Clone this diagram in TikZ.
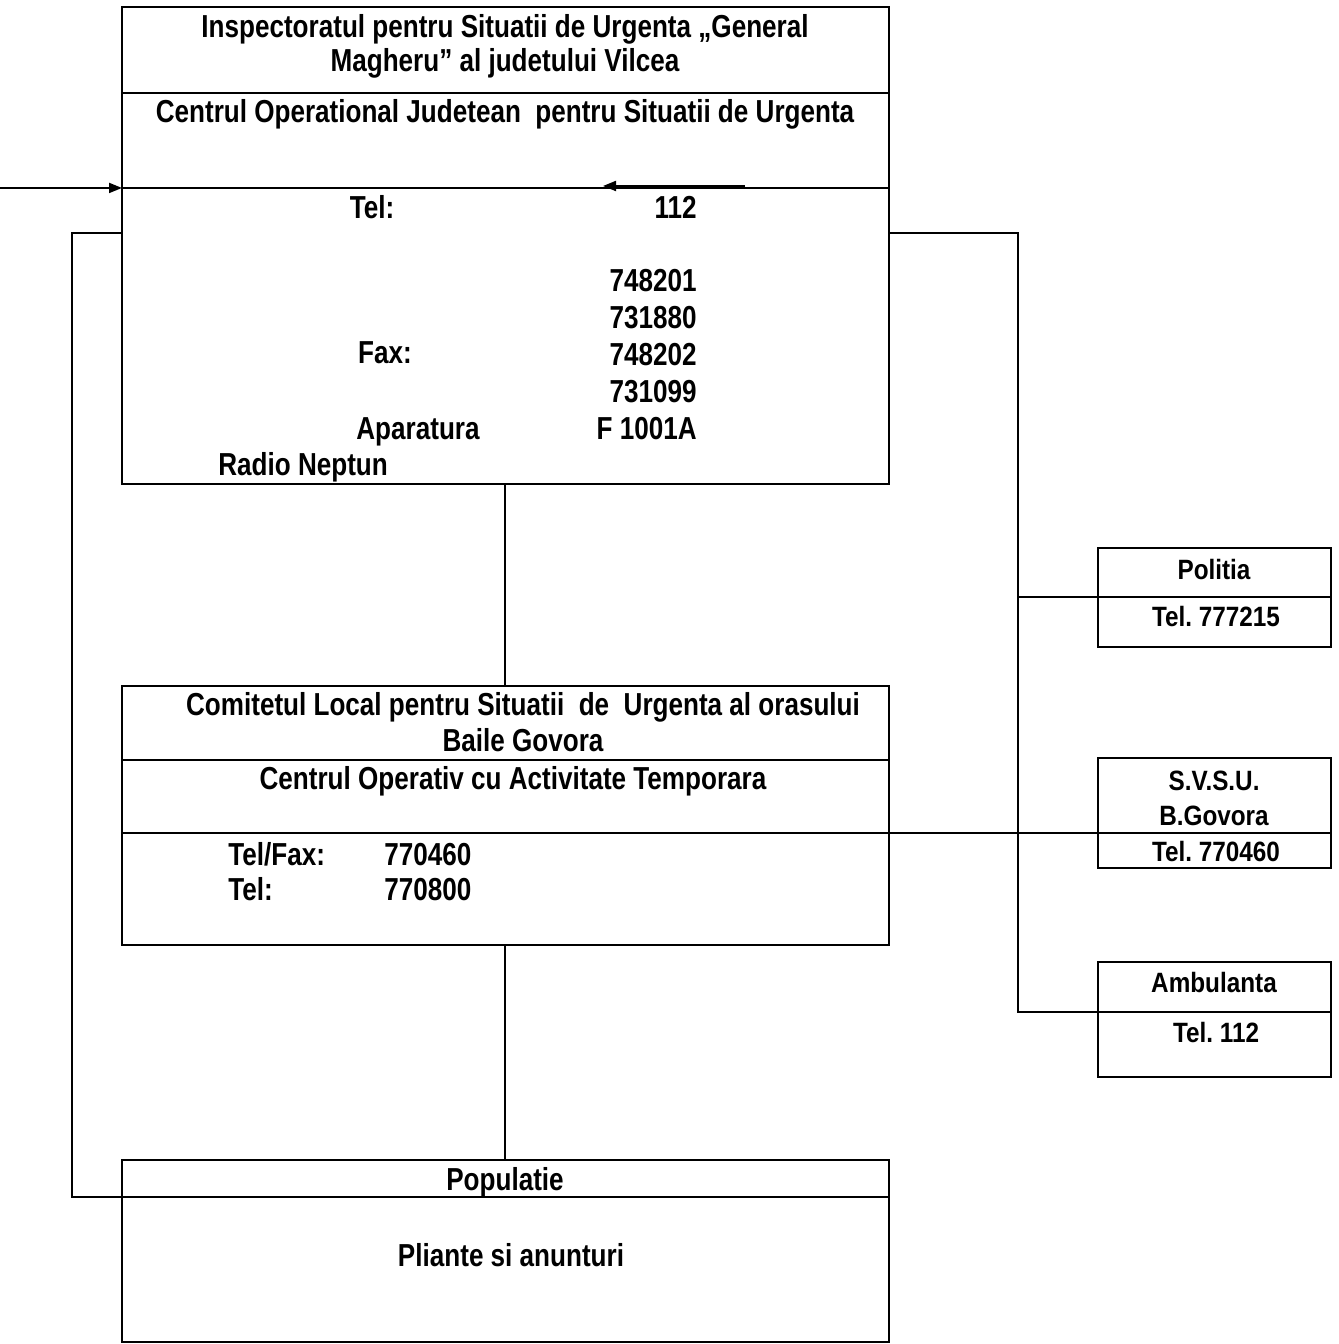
\documentclass[tikz,border=0pt]{standalone}
\usepackage{fontspec}
\setmainfont{Liberation Sans}
\newfontfamily\narrowfont[FakeStretch=0.82]{Liberation Sans}
\newfontfamily\sidefont[FakeStretch=0.87]{Liberation Sans}
\usetikzlibrary{arrows.meta, positioning}
\frenchspacing

\begin{document}
\begin{tikzpicture}[x=0.02cm, y=-0.02cm,
  part/.style={draw, line width=1.1pt, anchor=north west, inner sep=0pt, outer sep=0pt, minimum width=15.34cm},
  sidepart/.style={draw, line width=1.1pt, anchor=north west, inner sep=0pt, outer sep=0pt, minimum width=4.66cm},
  link/.style={line width=1.1pt},
  txt/.style={font=\narrowfont\bfseries\fontsize{18.1}{21}\selectfont, inner sep=0pt, anchor=base},
  sidetxt/.style={font=\sidefont\bfseries\fontsize{15.9}{19.8}\selectfont, inner sep=0pt, anchor=base, align=center}]

\useasboundingbox (0,0) rectangle (1338,1344);

% Inspectorat box (three stacked parts)
\node[part, minimum height=1.72cm] (isuT) at (122,7) {};
\node[part, minimum height=1.9cm] (isuC) at (isuT.south west) {};
\node[part, minimum height=5.92cm] (isuD) at (isuC.south west) {};

\node[txt, align=center, font=\narrowfont\bfseries\fontsize{18.1}{19.8}\selectfont] (isuTitle) at (505,72) {Inspectoratul pentru Situatii de Urgenta „General\\Magheru” al judetului Vilcea};
\node[txt] (isuCentru) at (505,123) {Centrul Operational Judetean\ \ pentru Situatii de Urgenta};
\node[txt] (isuTel) at (372,219) {Tel:};
\node[txt, anchor=base east] (isu112) at (697,219) {112};
\node[txt, anchor=base east, align=right] (isuNr) at (697,439) {748201\\731880\\748202\\731099\\F 1001A};
\node[txt] (isuFax) at (385,364) {Fax:};
\node[txt] (isuApar) at (418,439) {Aparatura};
\node[txt, anchor=base west] (isuRadio) at (218,475) {Radio Neptun};

% incoming arrows
\coordinate (inL) at (0,0);
\coordinate (inR) at (745,186);
\coordinate (inRtip) at (603,186);
\draw[link, -{Triangle[length=0.26cm, width=0.2cm]}] (inL |- isuC.south west) -- (isuC.south west);
\draw[link, -{Triangle[length=0.26cm, width=0.2cm]}] (inR) -- (inRtip);

% Comitetul Local box
\node[part, minimum height=1.48cm] (clT) at (122,686) {};
\node[part, minimum height=1.46cm] (clC) at (clT.south west) {};
\node[part, minimum height=2.24cm] (clD) at (clC.south west) {};

\node[txt, align=center, font=\narrowfont\bfseries\fontsize{18.1}{20.4}\selectfont] (clTitle) at (523,751) {Comitetul Local pentru Situatii\ \ de\ \ Urgenta al orasului\\Baile Govora};
\node[txt] (clCentru) at (513,789) {Centrul Operativ cu Activitate Temporara};
\node[txt, anchor=base west, align=left, font=\narrowfont\bfseries\fontsize{18.1}{19.8}\selectfont] (clLbl) at (228,900) {Tel/Fax:\\Tel:};
\node[txt, anchor=base west, align=left, font=\narrowfont\bfseries\fontsize{18.1}{19.8}\selectfont] (clNr) at (384,900) {770460\\770800};

% Populatie box
\node[part, minimum height=0.74cm] (popT) at (122,1160) {};
\node[part, minimum height=2.9cm] (popB) at (popT.south west) {};

\node[txt] (popTitle) at (505,1190) {Populatie};
\node[txt] (popText) at (511,1266) {Pliante si anunturi};

% Side boxes
\node[sidepart, minimum height=0.98cm] (polT) at (1098,548) {};
\node[sidepart, minimum height=1.0cm] (polB) at (polT.south west) {};
\node[sidetxt] (polName) at (1214,579) {Politia};
\node[sidetxt] (polTel) at (1216,626) {Tel. 777215};

\node[sidepart, minimum height=1.5cm] (svT) at (1098,758) {};
\node[sidepart, minimum height=0.7cm] (svB) at (svT.south west) {};
\node[sidetxt] (svName) at (1214,825) {S.V.S.U.\\B.Govora};
\node[sidetxt] (svTel) at (1216,861) {Tel. 770460};

\node[sidepart, minimum height=1.0cm] (ambT) at (1098,962) {};
\node[sidepart, minimum height=1.3cm] (ambB) at (ambT.south west) {};
\node[sidetxt] (ambName) at (1214,992) {Ambulanta};
\node[sidetxt] (ambTel) at (1216,1042) {Tel. 112};

% Connectors
\coordinate (jR) at (1018,233);
\coordinate (jL) at (72,233);
\draw[link] (isuD.south) -- (clT.north);
\draw[link] (clD.south) -- (popT.north);
\draw[link] (isuD.east |- jR) -- (jR) -- (jR |- ambT.south) -- (ambT.south west);
\draw[link] (jR |- polT.south) -- (polT.south west);
\draw[link] (clC.south east) -- (svT.south west);
\draw[link] (isuD.west |- jL) -- (jL) -- (jL |- popT.south) -- (popT.south west);

\end{tikzpicture}
\end{document}
